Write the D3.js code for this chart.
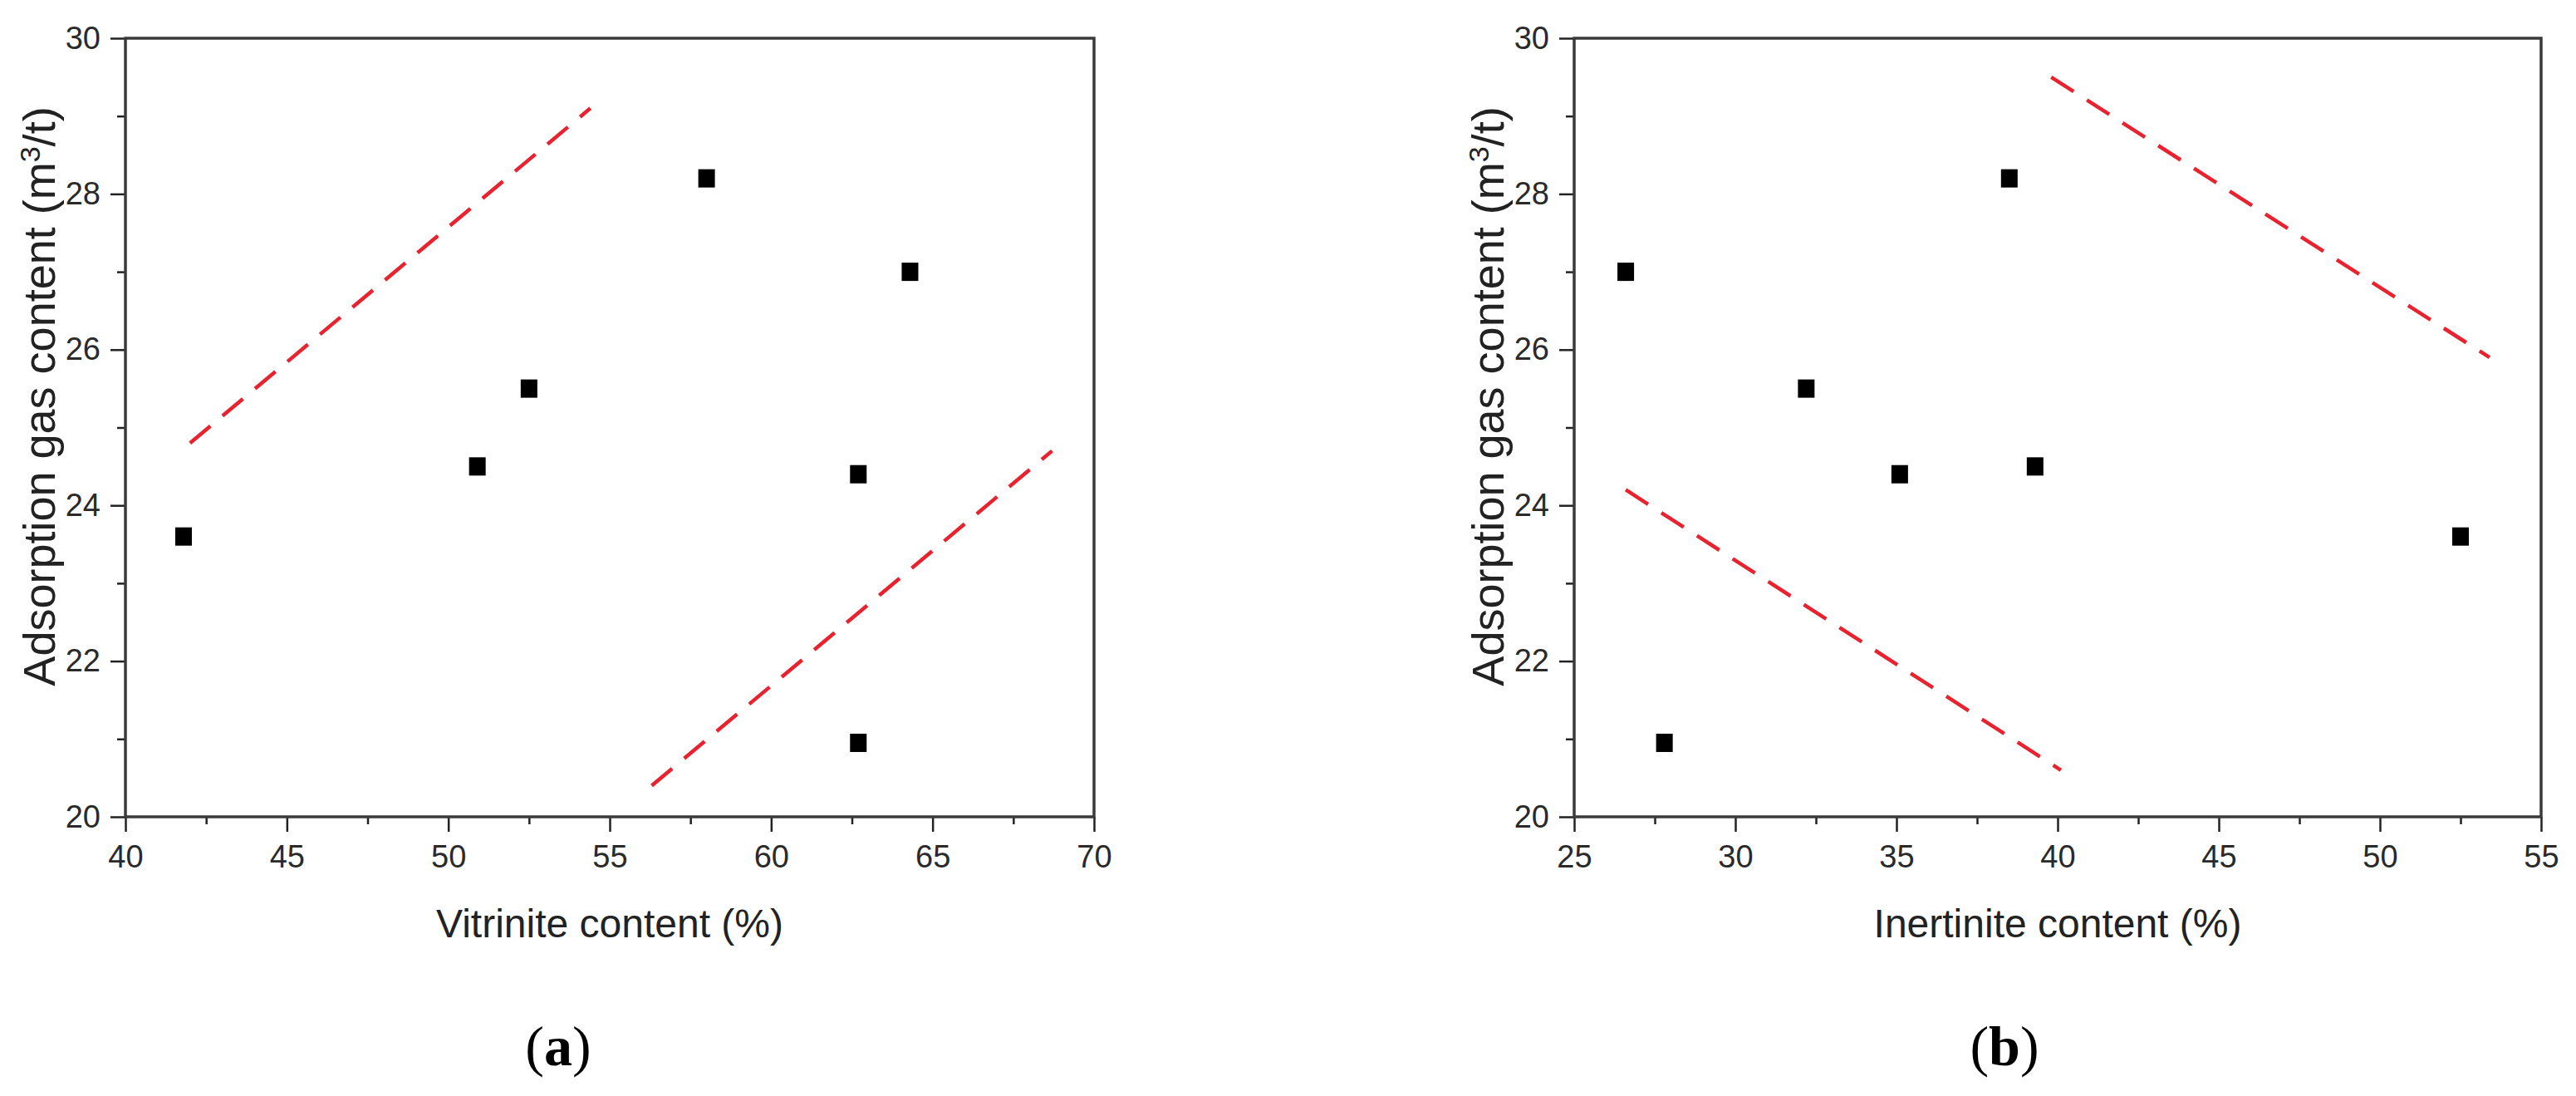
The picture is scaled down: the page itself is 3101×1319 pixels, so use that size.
<!DOCTYPE html>
<html>
<head>
<meta charset="utf-8">
<script src="https://cdnjs.cloudflare.com/ajax/libs/d3/7.8.5/d3.min.js"></script>
<style>
  html, body { margin: 0; padding: 0; background: #fff; }
  svg { display: block; }
</style>
</head>
<body>
<div id="chart"></div>
<script>
const width = 3101;
const height = 1319;

// data
const vitrinite = [41.8, 50.9, 52.5, 58.0, 64.3, 62.7, 62.7];
const inertinite = [52.5, 39.3, 32.2, 38.5, 26.6, 35.1, 27.8];
const gasContent = [23.6, 24.5, 25.5, 28.2, 27.0, 24.4, 20.95];

// dashed bounding lines [x, y] end points
const vitLineUpper = [[42.0, 24.8], [54.4, 29.1]];
const vitLineLower = [[56.3, 20.4], [68.7, 24.7]];
const inerLineUpper = [[39.8, 29.5], [53.4, 25.9]];
const inerLineLower = [[26.6, 24.2], [40.1, 20.6]];

const yTicks = [20, 22, 24, 26, 28, 30];
const yMinor = [21, 23, 25, 27, 29];
const vitTicks = [40, 45, 50, 55, 60, 65, 70];
const vitMinor = [42.5, 47.5, 52.5, 57.5, 62.5, 67.5];
const inerTicks = [25, 30, 35, 40, 45, 50, 55];
const inerMinor = [27.5, 32.5, 37.5, 42.5, 47.5, 52.5];

const axisColor = "#3a3a3a";
const dashColor = "#e8222e";
const sansFont = "'Liberation Sans', Arial, sans-serif";
const serifFont = "'Liberation Serif', 'Times New Roman', serif";

const svg = d3
  .select("#chart")
  .append("svg")
  .attr("width", width)
  .attr("height", height);

svg.append("rect").attr("width", width).attr("height", height).attr("fill", "#fff");

const plotTop = 46;
const plotBottom = 983;

const drawPanel = (cfg) => {
  const x = d3.scaleLinear().domain(cfg.xDomain).range([cfg.left, cfg.right]);
  const y = d3.scaleLinear().domain([20, 30]).range([plotBottom, plotTop]);
  const g = svg.append("g");

  // minor ticks
  g.append("g")
    .attr("transform", `translate(0,${plotBottom})`)
    .call(d3.axisBottom(x).tickValues(cfg.minor).tickSize(9).tickFormat(""))
    .call(a => a.select(".domain").remove());
  g.append("g")
    .attr("transform", `translate(${cfg.left},0)`)
    .call(d3.axisLeft(y).tickValues(yMinor).tickSize(10).tickFormat(""))
    .call(a => a.select(".domain").remove());

  // major ticks
  const xAxis = g.append("g")
    .attr("transform", `translate(0,${plotBottom})`)
    .call(d3.axisBottom(x).tickValues(cfg.ticks).tickSize(18).tickPadding(16).tickFormat(d3.format("d")));
  const yAxis = g.append("g")
    .attr("transform", `translate(${cfg.left},0)`)
    .call(d3.axisLeft(y).tickValues(yTicks).tickSize(18).tickPadding(12).tickFormat(d3.format("d")));

  [xAxis, yAxis].forEach(a => {
    a.select(".domain").remove();
    a.selectAll("text")
      .style("font-family", sansFont)
      .style("font-size", "38px")
      .attr("fill", "#2a2a2a");
  });
  g.selectAll(".tick line").attr("stroke", "#222").attr("stroke-width", 2.5);

  // frame
  g.append("rect")
    .attr("x", cfg.left)
    .attr("y", plotTop)
    .attr("width", cfg.right - cfg.left)
    .attr("height", plotBottom - plotTop)
    .attr("fill", "none")
    .attr("stroke", axisColor)
    .attr("stroke-width", 3.5);

  // dashed lines
  const line = d3.line().x(d => x(d[0])).y(d => y(d[1]));
  cfg.lines.forEach(l => {
    g.append("path")
      .datum(l)
      .attr("d", line)
      .attr("fill", "none")
      .attr("stroke", dashColor)
      .attr("stroke-width", 4.5)
      .attr("stroke-dasharray", "32,19");
  });

  // points
  g.selectAll(".pt")
    .data(cfg.xs)
    .enter()
    .append("rect")
    .attr("class", "pt")
    .attr("x", d => x(d) - 10)
    .attr("y", (d, i) => y(gasContent[i]) - 11)
    .attr("width", 20)
    .attr("height", 22)
    .attr("fill", "#000");

  // axis titles
  g.append("text")
    .attr("x", (cfg.left + cfg.right) / 2)
    .attr("y", 1128)
    .attr("text-anchor", "middle")
    .style("font-family", sansFont)
    .style("font-size", "48px")
    .attr("fill", "#222")
    .text(cfg.xTitle);

  const yt = g.append("text")
    .attr("transform", `translate(${cfg.left - 85},477) rotate(-90)`)
    .attr("text-anchor", "middle")
    .style("font-family", sansFont)
    .style("font-size", "54px")
    .attr("fill", "#222");
  yt.append("tspan").text("Adsorption gas content (m");
  yt.append("tspan").attr("dy", -18).style("font-size", "34px").text("3");
  yt.append("tspan").attr("dy", 18).text("/t)");

  // panel label
  const lab = g.append("text")
    .attr("x", cfg.labelX)
    .attr("y", 1282)
    .attr("text-anchor", "middle")
    .style("font-family", serifFont)
    .style("font-size", "68px")
    .attr("fill", "#000");
  lab.append("tspan").text("(");
  lab.append("tspan").style("font-weight", "bold").text(cfg.label);
  lab.append("tspan").text(")");
};

drawPanel({
  left: 151,
  right: 1317,
  xDomain: [40, 70],
  ticks: vitTicks,
  minor: vitMinor,
  xs: vitrinite,
  lines: [vitLineUpper, vitLineLower],
  xTitle: "Vitrinite content (%)",
  label: "a",
  labelX: 672
});

drawPanel({
  left: 1895,
  right: 3059,
  xDomain: [25, 55],
  ticks: inerTicks,
  minor: inerMinor,
  xs: inertinite,
  lines: [inerLineUpper, inerLineLower],
  xTitle: "Inertinite content (%)",
  label: "b",
  labelX: 2413
});
</script>
</body>
</html>
